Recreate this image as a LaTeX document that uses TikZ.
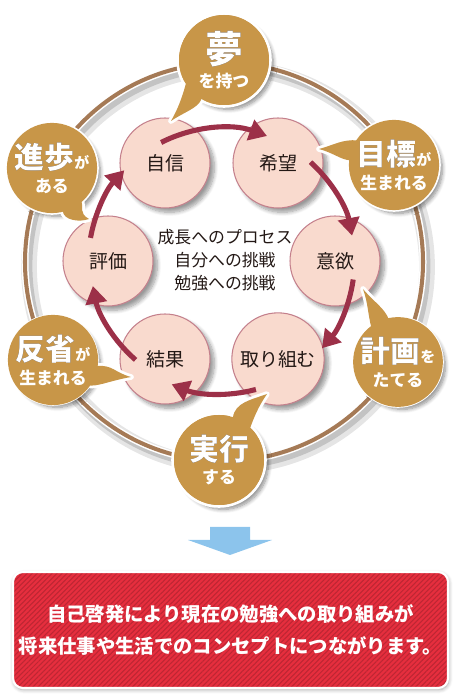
\documentclass[tikz,border=0pt]{standalone}
\usepackage{fontspec}
\setmainfont{Noto Sans CJK JP}
\usepackage[outline]{contour}
\contourlength{0.8pt}
\usetikzlibrary{arrows.meta, calc, patterns.meta, shadows.blur}

\definecolor{ringbrown}{RGB}{165, 122, 86}
\definecolor{stagepink}{RGB}{249, 218, 206}
\definecolor{stageedge}{RGB}{196, 128, 140}
\definecolor{cyclered}{RGB}{156, 48, 72}
\definecolor{bubblebrown}{RGB}{200, 150, 72}
\definecolor{inkdark}{RGB}{35, 24, 21}
\definecolor{notered}{RGB}{230, 46, 62}
\definecolor{arrowblue}{RGB}{140, 196, 236}

\newcommand{\bigword}[2][17]{{\fontsize{#1}{#1}\selectfont\bfseries\color{white}\contour{inkdark}{#2}}}
\newcommand{\smallkana}[1]{{\fontsize{8.5}{10}\selectfont #1}}

\tikzset{
  stage/.style={circle, minimum size=1.8cm, fill=stagepink, draw=stageedge, line width=0.6pt,
    text=inkdark, font=\fontsize{10.8}{13}\selectfont,
    blur shadow={shadow xshift=2.5pt, shadow yshift=-2.5pt, shadow opacity=40, shadow blur steps=8}},
  cyc/.style={cyclered, line width=2.9pt, -{Triangle[length=10pt, width=12pt]}},
  bubshadow/.style={blur shadow={shadow xshift=2.5pt, shadow yshift=-2.5pt, shadow opacity=45, shadow blur steps=8}},
  bubout/.style={preaction={draw=white, line width=3.2pt, line join=round}, fill=bubblebrown},
  bubble/.style={circle, inner sep=0pt, outer sep=0pt, fill=bubblebrown, text=white, align=center,
    font=\bfseries\fontsize{9.6}{13.6}\selectfont},
  notebox/.style={rounded corners=0.2cm, minimum width=8.58cm, minimum height=2.32cm,
    blur shadow={shadow xshift=0.5pt, shadow yshift=-1pt, shadow opacity=35, shadow blur steps=6},
    preaction={fill=notered}, pattern={Lines[angle=45, distance=2pt, line width=0.6pt]},
    pattern color=notered!82!black, draw=white, line width=1.2pt,
    text=white, align=center, font=\bfseries\fontsize{11}{18.7}\selectfont}
}

\begin{document}
\begin{tikzpicture}
  \useasboundingbox (0,0) rectangle (9.2,14);

  % Ring
  \coordinate (ringc) at (4.48, 8.76);
  \draw[black, opacity=0.10, line width=9pt] ([shift={(0.08,-0.10)}]ringc) circle[radius=3.98];
  \draw[black, opacity=0.15, line width=5pt] ([shift={(0.06,-0.08)}]ringc) circle[radius=3.98];
  \draw[white, line width=4pt] (ringc) circle[radius=3.98];
  \draw[ringbrown, line width=2.3pt] (ringc) circle[radius=3.98];

  % Stages
  \node[stage] (jishin) at (3.30, 10.74) {自信};
  \node[stage] (kibou) at (5.56, 10.74) {希望};
  \node[stage] (iyoku) at (6.70, 8.78) {意欲};
  \node[stage] (torikumu) at (5.56, 6.82) {取り組む};
  \node[stage] (kekka) at (3.30, 6.82) {結果};
  \node[stage] (hyouka) at (2.16, 8.78) {評価};

  % Cycle arrows
  \coordinate (hub) at (4.43, 8.78);
  \draw[cyc] ([shift={(117:2.66)}]hub) arc[start angle=117, end angle=70, radius=2.66];
  \draw[cyc] ([shift={(48:2.66)}]hub) arc[start angle=48, end angle=11, radius=2.66];
  \draw[cyc] ([shift={(-8:2.66)}]hub) arc[start angle=-8, end angle=-41, radius=2.66];
  \draw[cyc] ([shift={(-75:2.66)}]hub) arc[start angle=-75, end angle=-112, radius=2.66];
  \draw[cyc] ([shift={(-131:2.62)}]hub) arc[start angle=-131, end angle=-169, radius=2.62];
  \draw[cyc] ([shift={(170:2.66)}]hub) arc[start angle=170, end angle=137, radius=2.66];

  % Center text
  \node[font=\fontsize{9.6}{13}\selectfont, text=inkdark, align=center] (motto) at (4.5, 8.8)
    {成長へのプロセス\\自分への挑戦\\勉強への挑戦};

  % Bubble: dream
  \coordinate (yumeC) at (4.48, 12.8);
  \coordinate (yumeTip) at (3.42, 11.58);
  \path[bubshadow, bubout] (yumeC) circle[radius=0.9];
  \path[bubout] (yumeC) -- ([shift={(212:0.9)}]yumeC) .. controls +(255:0.3) and +(60:0.25) .. (yumeTip)
    .. controls +(35:0.3) and +(250:0.2) .. ([shift={(240:0.9)}]yumeC) -- cycle;
  \node[bubble, minimum size=1.8cm] (yume) at (yumeC) {\bigword[21.5]{夢}\\を持つ};

  % Bubble: goal
  \coordinate (mokuhyoC) at (7.88, 10.7);
  \coordinate (mokuhyoTip) at (6.38, 11.02);
  \path[bubshadow, bubout] (mokuhyoC) circle[radius=0.88];
  \path[bubout] (mokuhyoC) -- ([shift={(146:0.88)}]mokuhyoC) .. controls +(175:0.3) and +(15:0.3) .. (mokuhyoTip)
    .. controls +(-15:0.3) and +(175:0.2) .. ([shift={(174:0.88)}]mokuhyoC) -- cycle;
  \node[bubble, minimum size=1.76cm] (mokuhyo) at (mokuhyoC) {\bigword{目標}\smallkana{が}\\生まれる};

  % Bubble: plan
  \coordinate (keikakuC) at (7.96, 6.76);
  \coordinate (keikakuTip) at (7.26, 8.22);
  \path[bubshadow, bubout] (keikakuC) circle[radius=0.86];
  \path[bubout] (keikakuC) -- ([shift={(128:0.86)}]keikakuC) .. controls +(105:0.3) and +(-70:0.3) .. (keikakuTip)
    .. controls +(-50:0.35) and +(110:0.25) .. ([shift={(102:0.86)}]keikakuC) -- cycle;
  \node[bubble, minimum size=1.72cm] (keikaku) at (keikakuC) {\bigword{計画}\smallkana{を}\\たてる};

  % Bubble: action
  \coordinate (jikkouC) at (4.38, 4.8);
  \coordinate (jikkouTip) at (5.34, 6.12);
  \path[bubshadow, bubout] (jikkouC) circle[radius=0.9];
  \path[bubout] (jikkouC) -- ([shift={(72:0.9)}]jikkouC) .. controls +(80:0.3) and +(200:0.35) .. (jikkouTip)
    .. controls +(235:0.3) and +(70:0.2) .. ([shift={(46:0.9)}]jikkouC) -- cycle;
  \node[bubble, minimum size=1.8cm] (jikkou) at (jikkouC) {\bigword{実行}\\する};

  % Bubble: reflection
  \coordinate (hanseiC) at (1.06, 6.8);
  \coordinate (hanseiTip) at (2.62, 6.46);
  \path[bubshadow, bubout] (hanseiC) circle[radius=0.86];
  \path[bubout] (hanseiC) -- ([shift={(-8:0.86)}]hanseiC) .. controls +(5:0.35) and +(165:0.35) .. (hanseiTip)
    .. controls +(190:0.45) and +(-10:0.2) .. ([shift={(-36:0.86)}]hanseiC) -- cycle;
  \node[bubble, minimum size=1.72cm] (hansei) at (hanseiC) {\bigword{反省}\smallkana{が}\\生まれる};

  % Bubble: progress
  \coordinate (shinpoC) at (1.04, 10.64);
  \coordinate (shinpoTip) at (1.78, 9.62);
  \path[bubshadow, bubout] (shinpoC) circle[radius=0.88];
  \path[bubout] (shinpoC) -- ([shift={(-76:0.88)}]shinpoC) .. controls +(-85:0.2) and +(200:0.2) .. (shinpoTip)
    .. controls +(150:0.25) and +(-70:0.15) .. ([shift={(-48:0.88)}]shinpoC) -- cycle;
  \node[bubble, minimum size=1.76cm] (shinpo) at (shinpoC) {\bigword{進歩}\smallkana{が}\\ある};

  % Down arrow
  \fill[arrowblue] (4.2,3.46) -- (5.0,3.46) -- (5.0,3.2) -- (5.44,3.2) -- (4.6,2.9) -- (3.76,3.2) -- (4.2,3.2) -- cycle;

  % Summary
  \node[notebox] (note) at (4.61, 1.40)
    {自己啓発により現在の勉強への取り組みが\\将来仕事や生活でのコンセプトにつながります。};
\end{tikzpicture}
\end{document}
